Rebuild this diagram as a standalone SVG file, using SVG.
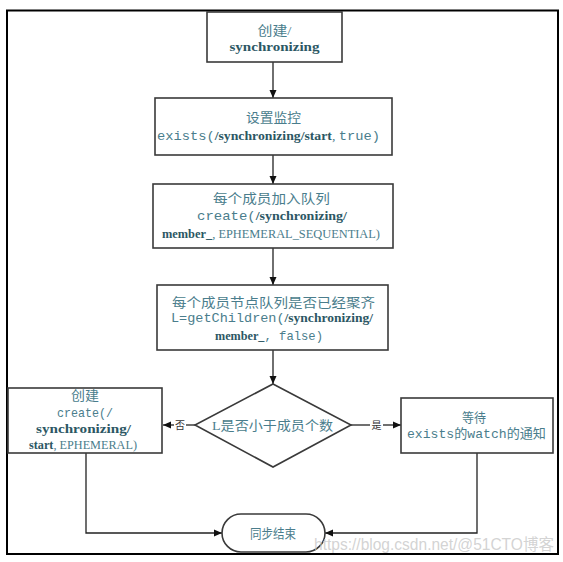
<svg xmlns="http://www.w3.org/2000/svg" width="563" height="562" viewBox="0 0 563 562">
<style>
.box{fill:#fff;stroke:#3a3a3a;stroke-width:1.6}
.t{font-family:"Noto Sans CJK SC","Liberation Serif",serif;font-size:13px;fill:#4a7d8c;text-anchor:middle}
.m{font-family:"Liberation Mono","Noto Sans CJK SC",monospace}
.s{font-family:"Liberation Serif","Noto Sans CJK SC",serif}
.b{font-family:"Liberation Serif",serif;font-weight:bold;fill:#2c5764}
.c{font-family:"Noto Sans CJK SC",sans-serif}
.ln{fill:none;stroke:#222;stroke-width:1.3}
.lbl{font-family:"Noto Sans CJK SC",sans-serif;font-size:10px;fill:#333;text-anchor:middle}
</style>
<defs>
<marker id="ah" markerUnits="userSpaceOnUse" markerWidth="8" markerHeight="8" refX="8" refY="4" orient="auto">
<path d="M0,0.5 L8,4 L0,7.5 Z" fill="#111"/>
</marker>
</defs>
<rect x="0" y="0" width="563" height="562" fill="#fff"/>
<rect x="7" y="10.5" width="551" height="543.5" fill="none" stroke="#000" stroke-width="2"/>

<g id="connectors">
<line class="ln" x1="273" y1="62" x2="273" y2="98" marker-end="url(#ah)"/>
<line class="ln" x1="273" y1="155" x2="273" y2="184" marker-end="url(#ah)"/>
<line class="ln" x1="273" y1="248" x2="273" y2="285" marker-end="url(#ah)"/>
<line class="ln" x1="273" y1="350" x2="273" y2="384" marker-end="url(#ah)"/>
<line class="ln" x1="195" y1="425" x2="186" y2="425"/>
<line class="ln" x1="174" y1="425" x2="163" y2="425" marker-end="url(#ah)"/>
<text class="lbl" x="180" y="428.5">否</text>
<line class="ln" x1="351" y1="425" x2="370" y2="425"/>
<line class="ln" x1="383" y1="425" x2="401" y2="425" marker-end="url(#ah)"/>
<text class="lbl" x="376.5" y="428.5">是</text>
<path class="ln" d="M86,453 V533 H222" marker-end="url(#ah)"/>
<path class="ln" d="M477,453 V533 H325" marker-end="url(#ah)"/>
</g>

<g id="n1">
<rect class="box" x="207" y="12" width="135" height="50"/>
<text class="t" x="274.5" y="35" textLength="34" lengthAdjust="spacingAndGlyphs"><tspan class="c">创建</tspan><tspan class="s">/</tspan></text>
<text class="t b" x="274.5" y="51" textLength="90" lengthAdjust="spacingAndGlyphs">synchronizing</text>
</g>

<g id="n2">
<rect class="box" x="155" y="98" width="237" height="57"/>
<text class="t" x="273.5" y="122" textLength="55" lengthAdjust="spacingAndGlyphs">设置监控</text>
<text class="t" x="268.5" y="140" textLength="223" lengthAdjust="spacingAndGlyphs"><tspan class="m">exists(</tspan><tspan class="b">/synchronizing/start</tspan><tspan class="s">, </tspan><tspan class="m">true)</tspan></text>
</g>

<g id="n3">
<rect class="box" x="153" y="184" width="240" height="64"/>
<text class="t" x="271.5" y="203" textLength="117" lengthAdjust="spacingAndGlyphs">每个成员加入队列</text>
<text class="t" x="272" y="220" textLength="150" lengthAdjust="spacingAndGlyphs"><tspan class="m">create(</tspan><tspan class="b">/synchronizing/</tspan></text>
<text class="t" x="271" y="238" textLength="218" lengthAdjust="spacingAndGlyphs"><tspan class="b">member_</tspan><tspan class="s">, EPHEMERAL_SEQUENTIAL)</tspan></text>
</g>

<g id="n4">
<rect class="box" x="157" y="285" width="231" height="65"/>
<text class="t" x="273.5" y="307" textLength="203" lengthAdjust="spacingAndGlyphs">每个成员节点队列是否已经聚齐</text>
<text class="t" x="272" y="322" textLength="202" lengthAdjust="spacingAndGlyphs"><tspan class="m">L=getChildren(</tspan><tspan class="b">/synchronizing/</tspan></text>
<text class="t" x="269" y="340" textLength="108" lengthAdjust="spacingAndGlyphs"><tspan class="b">member_</tspan><tspan class="m">, false)</tspan></text>
</g>

<g id="n5">
<polygon points="273,384 351,425 273,467 195,425" fill="#fff" stroke="#3a3a3a" stroke-width="1.6"/>
<text class="t" x="272.5" y="430" textLength="121" lengthAdjust="spacingAndGlyphs"><tspan class="s">L</tspan><tspan class="c">是否小于成员个数</tspan></text>
</g>

<g id="n6">
<rect class="box" x="8" y="388" width="154" height="65"/>
<text class="t" x="85" y="400" textLength="28" lengthAdjust="spacingAndGlyphs">创建</text>
<text class="t" x="85" y="417" textLength="56" lengthAdjust="spacingAndGlyphs"><tspan class="m">create(/</tspan></text>
<text class="t b" x="83.5" y="433" textLength="95" lengthAdjust="spacingAndGlyphs">synchronizing/</text>
<text class="t" x="83" y="449" textLength="108" lengthAdjust="spacingAndGlyphs"><tspan class="b">start</tspan><tspan class="s">, EPHEMERAL)</tspan></text>
</g>

<g id="n7">
<rect class="box" x="401" y="398" width="152" height="55"/>
<text class="t" x="474" y="422" textLength="24" lengthAdjust="spacingAndGlyphs">等待</text>
<text class="t" x="476.5" y="438" textLength="139" lengthAdjust="spacingAndGlyphs"><tspan class="m">exists</tspan><tspan class="c">的</tspan><tspan class="m">watch</tspan><tspan class="c">的通知</tspan></text>
</g>

<g id="n8">
<rect class="box" x="222" y="514" width="103" height="38" rx="19" ry="19"/>
<text class="t" x="273" y="537.5" font-size="12" textLength="46" lengthAdjust="spacingAndGlyphs">同步结束</text>
</g>

<text x="554" y="550" font-family="'Liberation Sans','Noto Sans CJK SC',sans-serif" font-size="16" fill="#c8c8c8" fill-opacity="0.8" text-anchor="end" textLength="240" lengthAdjust="spacingAndGlyphs">https://blog.csdn.net/@51CTO博客</text>
</svg>
